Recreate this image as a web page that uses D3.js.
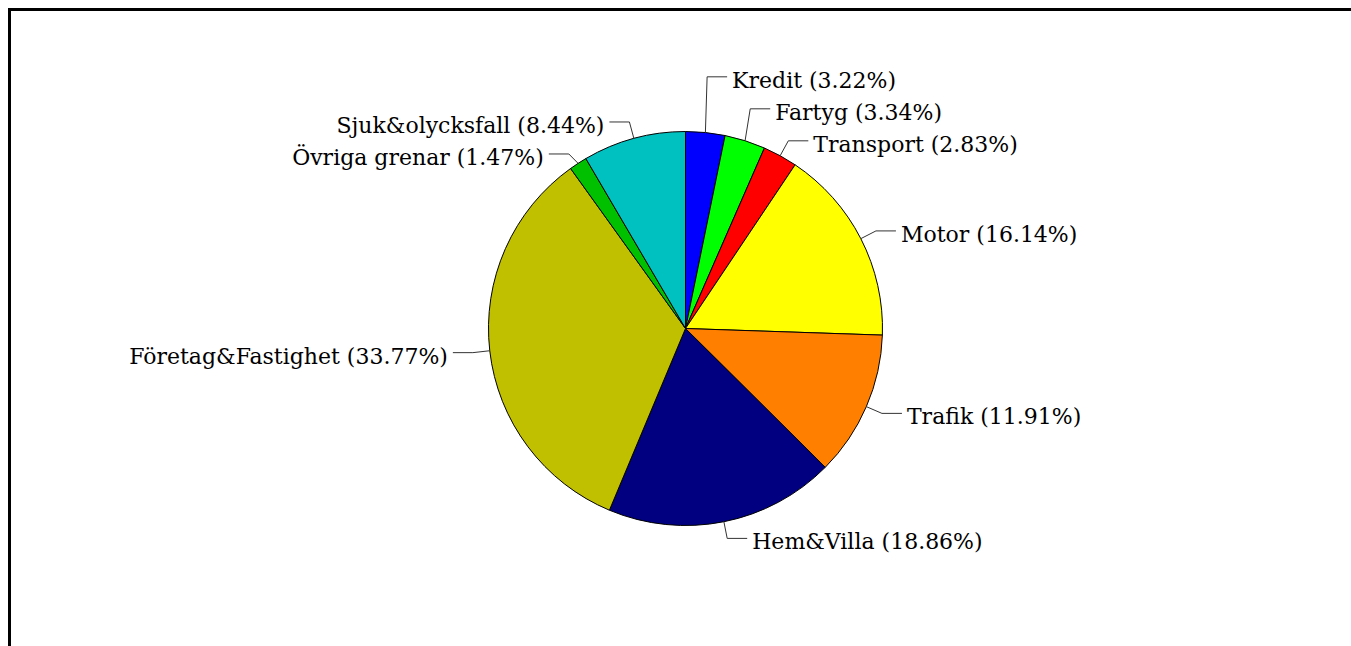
<!DOCTYPE html>
<html>
<head>
<meta charset="utf-8">
<script src="https://cdn.jsdelivr.net/npm/d3@7"></script>
<style>
  body { margin: 0; background: #fff; }
  svg { display: block; }
</style>
</head>
<body>
<div class="chart"></div>
<script>
const categories = ["Kredit", "Fartyg", "Transport", "Motor", "Trafik", "Hem&Villa",
  "Företag&Fastighet", "Övriga grenar", "Sjuk&olycksfall"];
const shares = [3.22, 3.34, 2.83, 16.14, 11.91, 18.86, 33.77, 1.47, 8.44];
const colors = ["#0000ff", "#00ff00", "#ff0000", "#ffff00", "#ff8000", "#000080",
  "#c0c000", "#00c000", "#00c0c0"];

const w = 1351;
const h = 646;
const cx = 685.5, cy = 328.5;
const radius = 197;
const elbowR = 214;
const spacing = 32;

const dataset = categories.map((c, i) => ({ name: c, value: shares[i], color: colors[i] }));

const svg = d3.select(".chart")
  .append("svg")
  .attr("width", w)
  .attr("height", h);

// frame, only left and top visible
svg.append("rect")
  .attr("x", 9.5)
  .attr("y", 9.5)
  .attr("width", w + 20)
  .attr("height", h + 20)
  .attr("fill", "none")
  .attr("stroke", "#000")
  .attr("stroke-width", 3);

const pie = d3.pie().sort(null).value(d => d.value);
const arcs = pie(dataset);
const arc = d3.arc().innerRadius(0).outerRadius(radius);

const g = svg.append("g").attr("transform", `translate(${cx},${cy})`);

g.selectAll("path.slice")
  .data(arcs)
  .enter()
  .append("path")
  .attr("class", "slice")
  .attr("d", arc)
  .attr("fill", d => d.data.color)
  .attr("stroke", "#000")
  .attr("stroke-width", 1);

// label positions
const labels = arcs.map(d => {
  const a = (d.startAngle + d.endAngle) / 2;
  return {
    d: d,
    right: Math.sin(a) >= 0,
    ax: Math.sin(a) * radius,
    ay: -Math.cos(a) * radius,
    ex: Math.sin(a) * elbowR,
    ey: -Math.cos(a) * elbowR
  };
});

// right side: push overlapping labels upwards
const rightSide = labels.filter(l => l.right).sort((a, b) => b.ey - a.ey);
for (let i = 1; i < rightSide.length; i++) {
  if (rightSide[i - 1].ey - rightSide[i].ey < spacing) rightSide[i].ey = rightSide[i - 1].ey - spacing;
}
// left side: push overlapping labels downwards
const leftSide = labels.filter(l => !l.right).sort((a, b) => a.ey - b.ey);
for (let i = 1; i < leftSide.length; i++) {
  if (leftSide[i].ey - leftSide[i - 1].ey < spacing) leftSide[i].ey = leftSide[i - 1].ey + spacing;
}

const lab = g.selectAll("g.label")
  .data(labels)
  .enter()
  .append("g")
  .attr("class", "label");

lab.append("polyline")
  .attr("points", l => {
    const hx = l.ex + (l.right ? 20 : -20);
    return [[l.ax, l.ay], [l.ex, l.ey], [hx, l.ey]].map(p => p.join(",")).join(" ");
  })
  .attr("fill", "none")
  .attr("stroke", "#333")
  .attr("stroke-width", 1);

lab.append("text")
  .attr("x", l => l.ex + (l.right ? 25 : -25))
  .attr("y", l => l.ey + 11)
  .attr("text-anchor", l => l.right ? "start" : "end")
  .attr("font-family", "'DejaVu Serif', serif")
  .attr("font-size", 22)
  .attr("fill", "#000")
  .text(l => `${l.d.data.name} (${l.d.data.value.toFixed(2)}%)`);
</script>
</body>
</html>
